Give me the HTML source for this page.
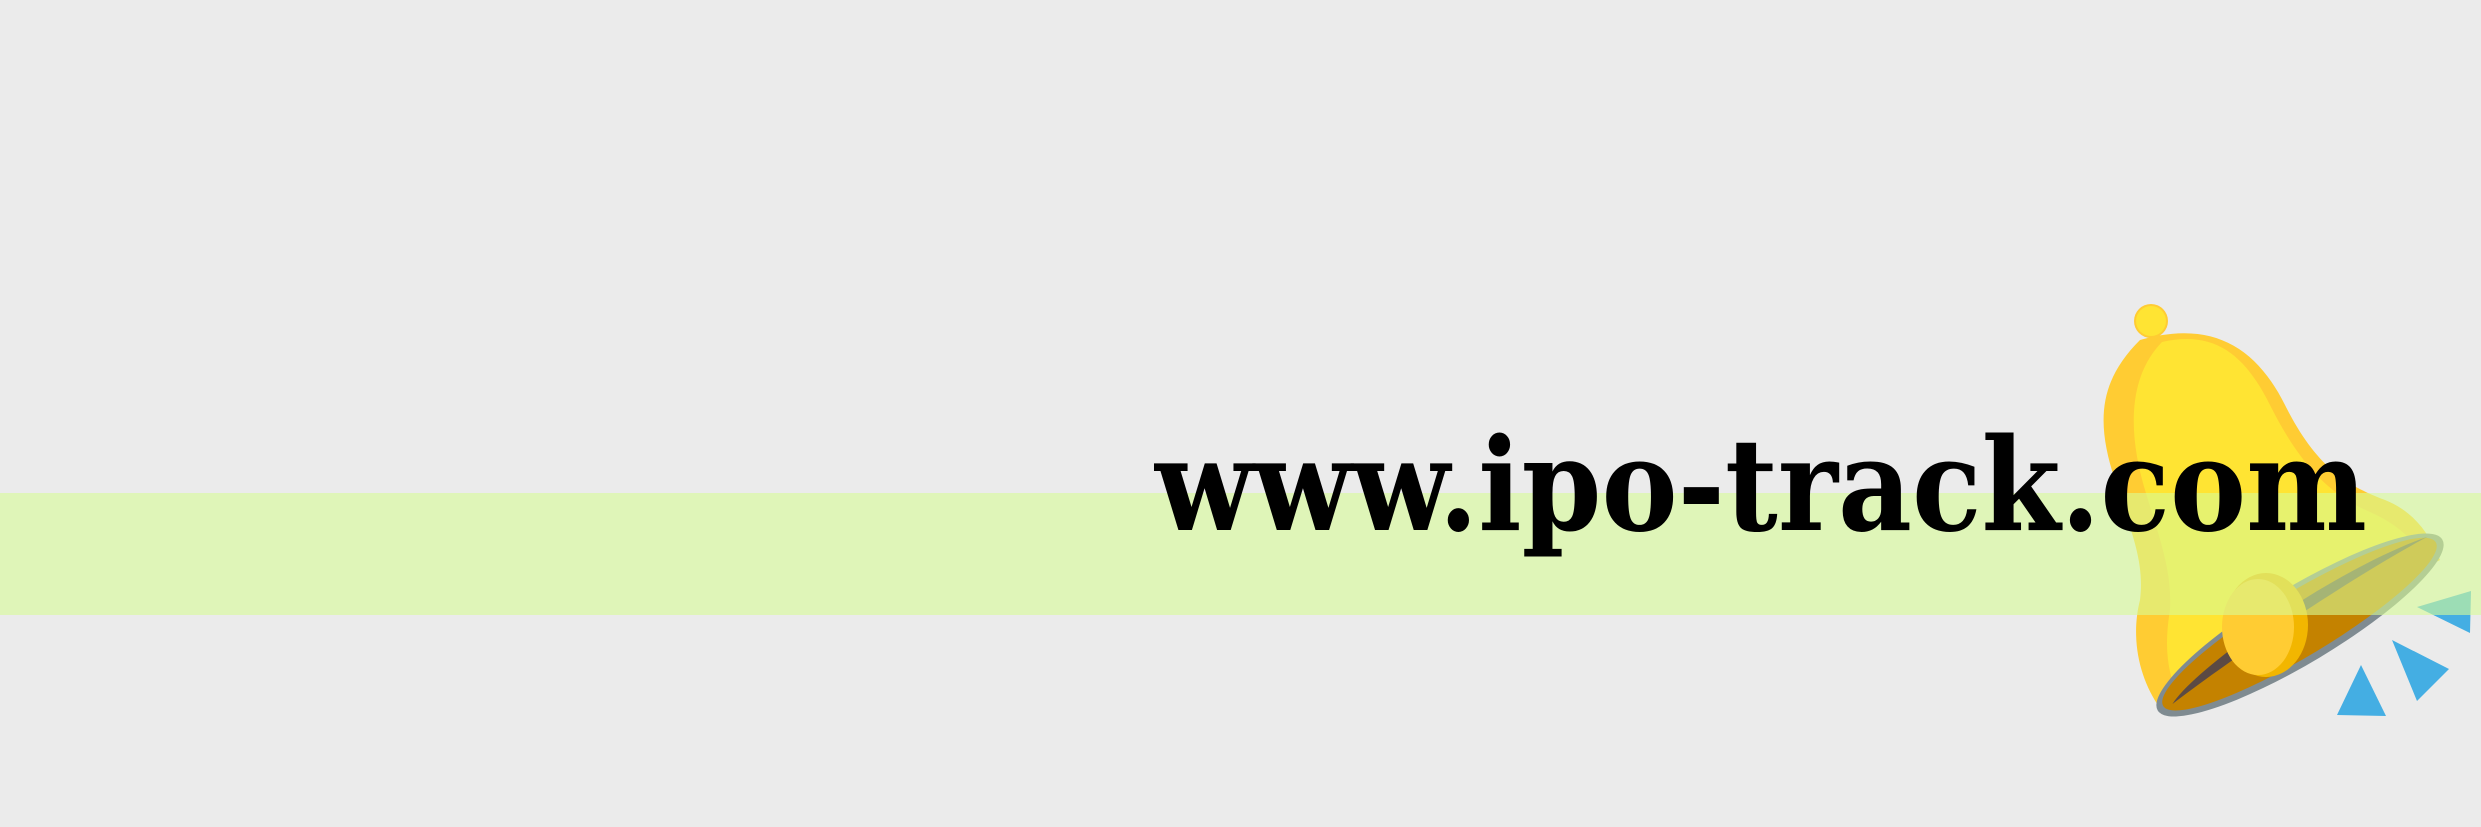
<!DOCTYPE html>
<html><head><style>html,body{margin:0;padding:0;background:#ebebeb;}svg{display:block}</style></head>
<body>
<svg width="2481" height="827" viewBox="0 0 2481 827" xmlns="http://www.w3.org/2000/svg">
<rect width="2481" height="827" fill="#ebebeb"/>
<!-- bell -->
<circle cx="2151" cy="321" r="17" fill="#ffcc33"/>
<circle cx="2151" cy="321" r="15" fill="#ffe433"/>
<path d="M2140,340 C2210,320 2255,345 2285,405 C2315,465 2345,485 2385,500 C2415,512 2430,535 2440,560 L2160,708 C2140,680 2130,640 2140,600 C2145,560 2130,530 2115,480 C2095,420 2100,380 2140,340 Z" fill="#ffcc33"/>
<path d="M2162,342 C2215,330 2245,355 2270,405 C2300,465 2330,495 2370,512 C2400,525 2420,545 2430,570 L2180,700 C2165,670 2165,640 2170,610 C2172,570 2160,540 2145,490 C2130,440 2125,380 2162,342 Z" fill="#ffe433"/>
<g transform="translate(2300,625) rotate(-31)">
<ellipse cx="0" cy="0" rx="166" ry="38" fill="#7f8b91"/>
<ellipse cx="0" cy="-1" rx="159" ry="32" fill="#c48200"/>
<path d="M-150,2 C-110,-18 60,-30 155,-10 C80,-14 -60,-8 -150,2 Z" fill="#5b4a44"/>
</g>
<ellipse cx="2266" cy="625" rx="42" ry="52" fill="#f2b600"/>
<ellipse cx="2258" cy="627" rx="36" ry="48" fill="#ffcc33"/>
<!-- triangles -->
<polygon points="2337,715 2361,665 2386,716" fill="#44aee3"/>
<polygon points="2392,640 2449,669 2417,701" fill="#44aee3"/>
<polygon points="2417,607 2471,591 2470,633" fill="#44aee3"/>
<!-- band -->
<rect x="0" y="493" width="2481" height="122" fill="rgb(215,252,150)" fill-opacity="0.6"/>
<text x="1155" y="530" font-family="DejaVu Serif, Liberation Serif, serif" font-weight="bold" font-size="128" textLength="1212" lengthAdjust="spacingAndGlyphs" fill="#000">www.ipo-track.com</text>
</svg>
</body></html>
